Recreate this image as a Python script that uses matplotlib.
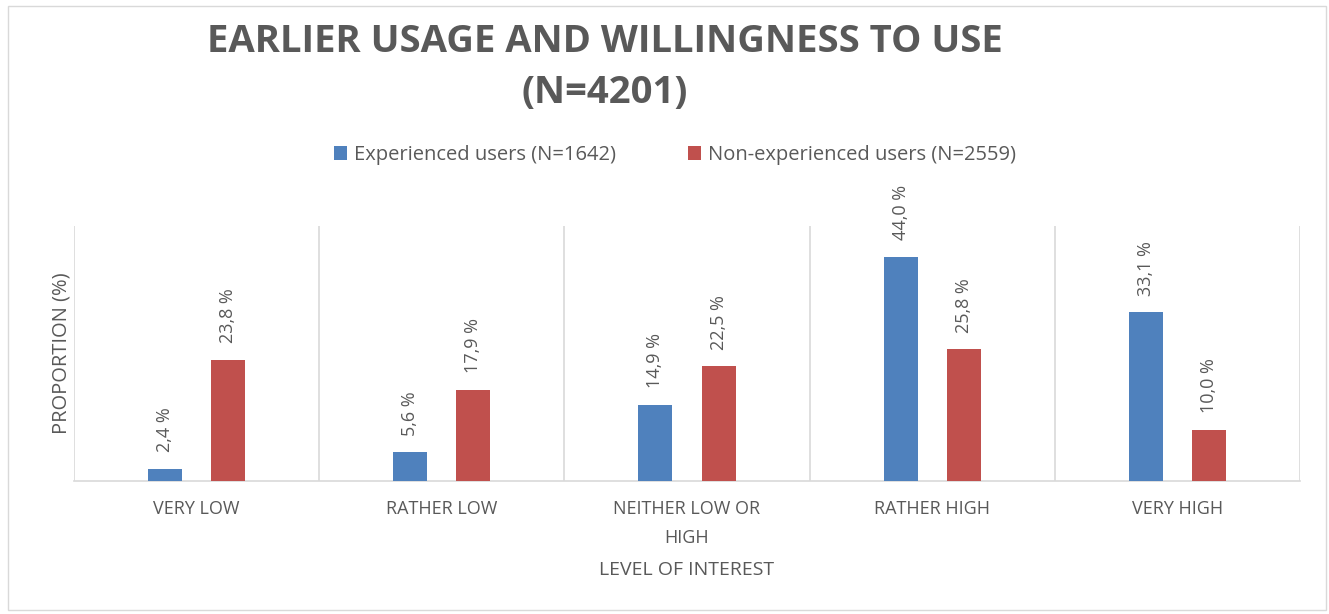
import matplotlib
matplotlib.use("Agg")
import matplotlib.pyplot as plt
import numpy as np
from matplotlib.patches import Rectangle

categories = ["VERY LOW", "RATHER LOW", "NEITHER LOW OR\nHIGH", "RATHER HIGH", "VERY HIGH"]
experienced = [2.4, 5.6, 14.9, 44.0, 33.1]
non_experienced = [23.8, 17.9, 22.5, 25.8, 10.0]
series_names = ["Experienced users (N=1642)", "Non-experienced users (N=2559)"]
title = "EARLIER USAGE AND WILLINGNESS TO USE\n(N=4201)"

BLUE = "#4f81bd"
RED = "#c0504d"
GRAY = "#595959"
GRID = "#d9d9d9"

plt.rcParams['font.family'] = ['Open Sans', 'DejaVu Sans']

fig = plt.figure(figsize=(13.29, 6.14), dpi=100)
ax = fig.add_axes([74/1329, 1-481/614, (1300-74)/1329, (481-226)/614])

x = np.arange(len(categories))
w = 0.139
off = 0.129
b1 = ax.bar(x - off, experienced, w, color=BLUE, label=series_names[0], zorder=3)
b2 = ax.bar(x + off, non_experienced, w, color=RED, label=series_names[1], zorder=3)

for bars, vals in ((b1, experienced), (b2, non_experienced)):
    for r, v in zip(bars, vals):
        ax.annotate(f"{v:.1f} %".replace(".", ","),
                    (r.get_x() + r.get_width()/2, r.get_height()),
                    xytext=(0, 12), textcoords="offset points",
                    rotation=90, ha="center", va="bottom",
                    fontsize=13, color=GRAY)

ax.set_xlim(-0.5, len(categories) - 0.5)
ax.set_ylim(0, 50)
ax.set_xticks(x)
ax.set_xticklabels(categories, fontsize=13, color=GRAY, linespacing=1.75)
ax.set_xticks(np.arange(-0.5, len(categories)), minor=True)
ax.tick_params(axis="x", which="both", length=0, pad=14)
ax.grid(axis="x", which="minor", color=GRID, linewidth=1.2, zorder=0)
ax.set_yticks([])
for s in ("top", "right", "left"):
    ax.spines[s].set_visible(False)
ax.spines["bottom"].set_color(GRID)
ax.spines["bottom"].set_linewidth(1.2)

ax.set_ylabel("PROPORTION (%)", fontsize=14.5, color=GRAY, labelpad=2)
ax.set_xlabel("LEVEL OF INTEREST", fontsize=14, color=GRAY, labelpad=10)

fig.text(605/1329, 1-67.5/614, title, ha="center", va="center",
         fontsize=27.5, fontweight="bold", color=GRAY, linespacing=1.45,
         family=['Open Sans', 'DejaVu Sans'])

leg = fig.legend(handles=[b1, b2], loc="center", bbox_to_anchor=(675/1329, 1-155/614),
                 ncol=2, frameon=False, fontsize=14.5, handlelength=0.65, handleheight=0.65,
                 columnspacing=3.6, handletextpad=0.35)
for t in leg.get_texts():
    t.set_color(GRAY)

fig.patches.append(Rectangle((8/1329, 4/614), 1318/1329, 604/614, transform=fig.transFigure,
                             fill=False, edgecolor=GRID, linewidth=1))

fig.savefig("out.png", dpi=100)
